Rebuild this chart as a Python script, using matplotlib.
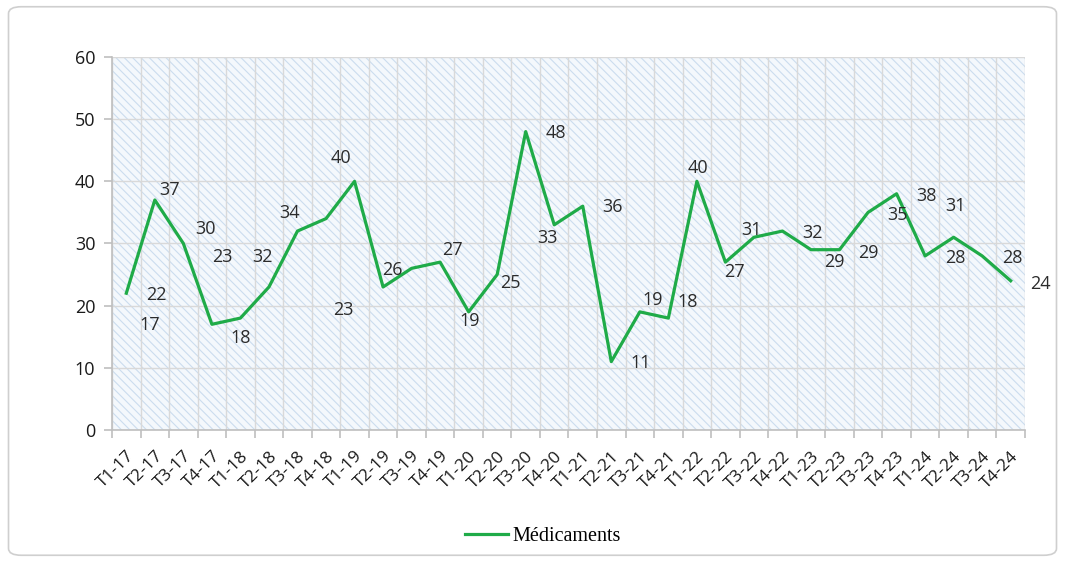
import matplotlib
matplotlib.use("Agg")
import matplotlib.pyplot as plt
import matplotlib.transforms as mtransforms
from matplotlib.patches import Rectangle, FancyBboxPatch

# Données trimestrielles
trimestres = ["T1-17", "T2-17", "T3-17", "T4-17", "T1-18", "T2-18", "T3-18", "T4-18",
              "T1-19", "T2-19", "T3-19", "T4-19", "T1-20", "T2-20", "T3-20", "T4-20",
              "T1-21", "T2-21", "T3-21", "T4-21", "T1-22", "T2-22", "T3-22", "T4-22",
              "T1-23", "T2-23", "T3-23", "T4-23", "T1-24", "T2-24", "T3-24", "T4-24"]
medicaments = [22, 37, 30, 17, 18, 23, 32, 34, 40, 23, 26, 27, 19, 25, 48, 33,
               36, 11, 19, 18, 40, 27, 31, 32, 29, 29, 35, 38, 28, 31, 28, 24]

# décalage des étiquettes (pixels) par rapport au point
label_dx = [30, 15, 22, -62, 0, -47, -35, -36, -14, -40, -19, 12, 1, 13, 30, -7,
            30, 29, 13, 19, 1, 9, -2, 30, 23, 29, 29, 30, 30, 2, 30, 30]
label_dy = [2, -10, -14, 1, 20, -30, 26, -6, -23, 23, 2, -12, 9, 8, 1, 13,
            1, 1, -12, -16, -13, 10, -7, 2, 12, 3, 3, 2, 2, -31, 2, 3]

plt.rcParams['hatch.color'] = '#cbdcef'
plt.rcParams['hatch.linewidth'] = 0.8

fig = plt.figure(figsize=(10.65, 5.62), dpi=100)
fig.patches.append(FancyBboxPatch((0.008, 0.012), 0.984, 0.976,
                                  boxstyle="round,pad=0,rounding_size=0.012",
                                  transform=fig.transFigure, fill=False,
                                  edgecolor='#cfcfcf', linewidth=1.2))
ax = fig.add_axes([0.1052, 0.2349, 0.8572, 0.6637])

x = list(range(len(trimestres)))
ax.set_xlim(-0.5, len(trimestres) - 0.5)
ax.set_ylim(0, 60)

# fond hachuré
ax.patch.set_visible(False)
ax.add_patch(Rectangle((0, 0), 1, 1, transform=ax.transAxes, facecolor='#f4f8fc',
                       hatch='\\\\\\\\', edgecolor='#cbdcef', linewidth=0, zorder=0))

ax.plot(x, medicaments, color='#1fab48', linewidth=2.3, zorder=3, label='Médicaments')

for i, v in enumerate(medicaments):
    ax.annotate(str(v), (x[i], v), xytext=(label_dx[i], -label_dy[i]),
                textcoords='offset pixels', ha='center', va='center',
                fontsize=13, color='#2b2b2b', family='Open Sans', zorder=4)

ax.set_yticks(range(0, 61, 10))
ax.set_xticks(x)
ax.set_xticklabels(trimestres, rotation=45, ha='right', rotation_mode='anchor',
                   fontsize=12.5, family='Open Sans', color='#1a1a1a')
shift = mtransforms.ScaledTranslation(6 / 100, 0, fig.dpi_scale_trans)
for lab in ax.get_xticklabels():
    lab.set_transform(lab.get_transform() + shift)
ax.set_xticks([i - 0.5 for i in range(len(trimestres) + 1)], minor=True)
ax.tick_params(axis='x', which='major', length=0, pad=13)
ax.tick_params(axis='x', which='minor', length=6, color='#bfbfbf', width=1.2)
ax.tick_params(axis='y', length=6, color='#bfbfbf', width=1.2, labelsize=13, pad=6,
               labelcolor='#1a1a1a')
for lab in ax.get_yticklabels():
    lab.set_family('Open Sans')

ax.set_axisbelow(True)
ax.grid(True, axis='y', color='#d9d9d9', linewidth=1)
ax.grid(True, axis='x', which='minor', color='#d9d9d9', linewidth=1)
for s in ['top', 'right']:
    ax.spines[s].set_visible(False)
for s in ['left', 'bottom']:
    ax.spines[s].set_color('#bfbfbf')
    ax.spines[s].set_linewidth(1.2)

fig.legend(loc='center', bbox_to_anchor=(0.510, 0.045), frameon=False,
           prop={'family': 'Liberation Serif', 'size': 14.5}, handlelength=2.1,
           handletextpad=0.25)

fig.savefig('out.png', dpi=100)
